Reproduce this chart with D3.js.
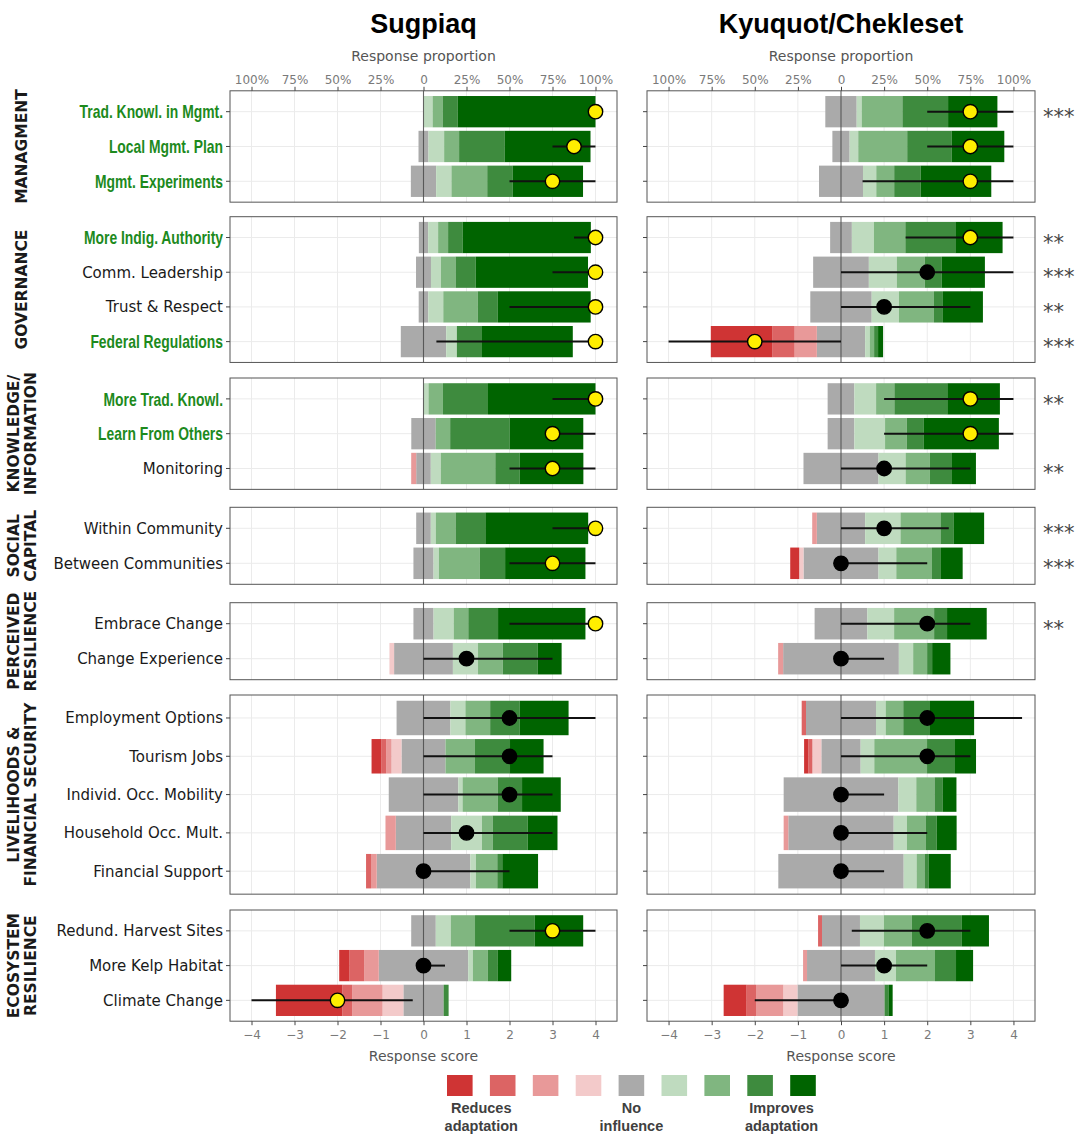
<!DOCTYPE html>
<html><head><meta charset="utf-8">
<script src="https://cdn.jsdelivr.net/npm/d3@7"></script>
<style>body{margin:0;background:#fff}</style>
</head><body><svg id="c" width="1078" height="1135"></svg>
<script>
// ---------------- DATA ----------------
const communities = ["Sugpiaq", "Kyuquot/Chekleset"];
const groupLabels = [["MANAGMENT"], ["GOVERNANCE"], ["KNOWLEDGE/", "INFORMATION"], ["SOCIAL", "CAPITAL"],
  ["PERCEIVED", "RESILIENCE"], ["LIVELIHOODS &", "FINANCIAL SECURITY"], ["ECOSYSTEM", "RESILIENCE"]];
const items = ["Trad. Knowl. in Mgmt.", "Local Mgmt. Plan", "Mgmt. Experiments",
  "More Indig. Authority", "Comm. Leadership", "Trust & Respect", "Federal Regulations",
  "More Trad. Knowl.", "Learn From Others", "Monitoring",
  "Within Community", "Between Communities",
  "Embrace Change", "Change Experience",
  "Employment Options", "Tourism Jobs", "Individ. Occ. Mobility", "Household Occ. Mult.", "Financial Support",
  "Redund. Harvest Sites", "More Kelp Habitat", "Climate Change"];
const itemGroup = [0,0,0, 1,1,1,1, 2,2,2, 3,3, 4,4, 5,5,5,5,5, 6,6,6];
const highlightedItems = [1,1,1, 1,0,0,1, 1,1,0, 0,0, 0,0, 0,0,0,0,0, 0,0,0];
// response categories (score -4 .. 4)
const categories = [-4, -3, -2, -1, 0, 1, 2, 3, 4];
// percentage of responses per category, order -4..4
const sugpiaqPct = [
  [0,0,0,0,0,5.3,5.8,8.7,80.2],
  [0,0,0,0,5.8,9.1,8.7,26.4,50],
  [0,0,0,0,14.7,8.9,20.8,14.7,41],
  [0,0,0,0,5.4,5.8,5.8,8.4,74.6],
  [0,0,0,0,8.7,5.8,8.5,11.7,65.3],
  [0,0,0,0,5.6,8.7,20,11.7,54],
  [0,0,0,0,26.4,6.2,0,14.6,52.8],
  [0,0,0,0,0,2.9,8.4,26.2,62.5],
  [0,0,0,0,14.2,0,8.4,34.6,42.8],
  [0,0,2.9,0,8.5,5.8,31.7,14.2,37],
  [0,0,0,0,8.5,2.9,11.5,17.3,59.8],
  [0,0,0,0,11.7,3.1,23.7,14.8,46.7],
  [0,0,0,0,11.7,11.7,8.5,17.3,50.8],
  [0,0,0,2.7,34.2,14.6,14.4,20.2,14],
  [0,0,0,0,31.3,8.7,14.4,17.1,28.5],
  [5.6,2.9,3.1,5.8,25.6,0,17.1,20.4,19.5],
  [0,0,0,0,40.4,2.5,20.4,14.2,22.5],
  [0,0,6,0,32.2,17.9,6.2,20.4,17.3],
  [0,2.9,3.3,0,54.4,3.3,12.4,2.9,20.8],
  [0,0,0,0,14.3,8.7,14.1,34.6,28.3],
  [6,8.5,8.5,0,52,2.7,8.7,5.6,8],
  [38.6,5.8,17.6,12.1,23.4,0,0,2.9,0]
];
const sugpiaqMedian = [4,3.5,3, 4,4,4,4, 4,3,3, 4,3, 4,1, 2,2,2,1,0, 3,0,-2];
const sugpiaqLow    = [4,3,2, 3.5,3,2,0.3, 3,3,2, 3,2, 2,0, 0,0,0,0,0, 2,0,-4];
const sugpiaqHigh   = [4,4,4, 4,4,4,4, 4,4,4, 4,4, 4,3, 4,3,3,3,2, 4,0.5,-0.25];
const sugpiaqSignif = [1,1,1, 1,1,1,1, 1,1,1, 1,1, 1,0, 0,0,0,0,0, 1,0,1];

const kyuquotPct = [
  [0,0,0,0,18.2,2.9,23.6,26.5,28.6],
  [0,0,0,0,10,5,28.4,25.7,30.6],
  [0,0,0,0,25.5,7.7,10.4,15.3,41],
  [0,0,0,0,12.6,12.8,18.2,29,27.4],
  [0,0,0,0,32.3,16.2,16.2,9.9,25],
  [0,0,0,0,35.6,15.8,20.3,5.2,23.2],
  [35.8,12.8,12.9,0,28,2.7,2.5,2.3,2.9],
  [0,0,0,0,15.5,12.6,10.6,30.7,30.5],
  [0,0,0,0,15.5,17.8,12.6,9.9,43.5],
  [0,0,0,0,43.5,15.7,14.1,12.8,13.9],
  [0,0,2.7,0,28,20.5,23.2,7.5,17.8],
  [5.2,0,0,2.5,43.5,10.3,20.7,5.2,12.6],
  [0,0,0,0,30.6,15.5,23.2,7.5,23],
  [0,0,2.9,0,67.1,8.3,8.1,2.9,10.6],
  [0,2.5,0,0,40.6,5.6,10.2,15.5,25.6],
  [2.5,2.3,0,5.2,22.8,7.9,30.6,16.2,12.2],
  [0,0,0,0,66.5,10.4,10.6,4.6,8.1],
  [0,0,2.7,0,61.1,7.7,10.8,6.4,11.6],
  [0,0,0,0,72.7,7.5,4.6,2.3,12.9],
  [0,2.3,0,0,22,13.9,16.2,29,15.7],
  [0,0,2.3,0,39.4,12.2,22.6,12.2,9.9],
  [13.3,5.5,15.8,8.2,50.5,0,0,2.5,2.2]
];
const kyuquotMedian = [3,3,3, 3,2,1,-2, 3,3,1, 1,0, 2,0, 2,2,0,0,0, 2,1,0];
const kyuquotLow    = [2,2,0.5, 1.5,0,0,-4, 1,1,0, 0,0, 0,0, 0,0,0,0,0, 0.25,0,-2];
const kyuquotHigh   = [4,4,4, 4,4,3,0, 4,4,3, 2.5,2, 3,1, 4.2,3,1,2,1, 3,2,0];
const kyuquotSignif = [1,1,1, 1,0,0,1, 1,1,0, 0,0, 0,0, 0,0,0,0,0, 0,0,0];
const diffStars = ["***","","", "**","***","**","***", "**","","**", "***","***", "**","", "","","","","", "","",""];

const topTickValues = [-4,-3,-2,-1,0,1,2,3,4];
const topTickLabels = ["100%","75%","50%","25%","0","25%","50%","75%","100%"];
const bottomTickValues = [-4,-3,-2,-1,0,1,2,3,4];
const legendLabels = [["Reduces","adaptation"],["No","influence"],["Improves","adaptation"]];
const legendLabelCats = [[-4,-3],[0],[3,4]];

// ---------------- STYLE / LAYOUT ----------------
const palette = ["#cf3434","#dc6464","#e89999","#f3caca","#aaaaaa","#bfdbbf","#80b680","#3e8b3e","#006400"];
const PANEL_X = [[230,617],[647,1035]];
const groupTop = [90.8,216.7,378,507.3,602.7,695,910];
const groupStep = [34.8,34.7,34.8,35,35,38.3,34.75];
const GREEN_TEXT = "#1d8a1d";

const svg = d3.select("#c");
const dataSets = [
  {pct: sugpiaqPct, med: sugpiaqMedian, lo: sugpiaqLow, hi: sugpiaqHigh, sig: sugpiaqSignif},
  {pct: kyuquotPct, med: kyuquotMedian, lo: kyuquotLow, hi: kyuquotHigh, sig: kyuquotSignif}
];

function segments(p) {
  const u = 4 / 100; // 100% == 4 score units
  const segs = [];
  const gh = p[4] * u / 2;
  segs.push({c: 4, x0: -gh, x1: gh});
  let s = -gh;
  for (let k = 3; k >= 0; k--) { const w = p[k] * u; segs.push({c: k, x0: s - w, x1: s}); s -= w; }
  s = gh;
  for (let k = 5; k <= 8; k++) { const w = p[k] * u; segs.push({c: k, x0: s, x1: s + w}); s += w; }
  return segs.filter(d => d.x1 - d.x0 > 0.0001);
}

communities.forEach((comm, ci) => {
  const [px0, px1] = PANEL_X[ci];
  const x = d3.scaleLinear([-4.5, 4.5], [px0, px1]);
  const ds = dataSets[ci];
  const g = svg.append("g");

  // title
  g.append("text").attr("x", (px0 + px1) / 2).attr("y", 33).attr("text-anchor", "middle")
    .attr("font-family", "Liberation Sans, Arial, sans-serif").attr("font-weight", "bold")
    .attr("font-size", 27).attr("fill", "#000").text(comm);
  g.append("text").attr("x", (px0 + px1) / 2).attr("y", 61).attr("text-anchor", "middle")
    .attr("font-family", "DejaVu Sans, sans-serif").attr("font-size", 14).attr("fill", "#555")
    .text("Response proportion");
  g.append("text").attr("x", (px0 + px1) / 2).attr("y", 1061).attr("text-anchor", "middle")
    .attr("font-family", "DejaVu Sans, sans-serif").attr("font-size", 14).attr("fill", "#555")
    .text("Response score");

  groupLabels.forEach((gl, gi) => {
    const idx = items.map((d, i) => i).filter(i => itemGroup[i] === gi);
    const n = idx.length;
    const top = groupTop[gi], bottom = top + (n + 0.2) * groupStep[gi];
    const y = d3.scaleBand(idx, [top, bottom]).paddingInner(0.1).paddingOuter(0.15);
    const pg = g.append("g");

    // grid
    pg.selectAll(".gv").data(topTickValues).join("line")
      .attr("x1", d => x(d)).attr("x2", d => x(d)).attr("y1", top).attr("y2", bottom)
      .attr("stroke", "#ebebeb").attr("stroke-width", 1);
    pg.selectAll(".gh").data(idx).join("line")
      .attr("x1", px0).attr("x2", px1).attr("y1", d => y(d) + y.bandwidth() / 2).attr("y2", d => y(d) + y.bandwidth() / 2)
      .attr("stroke", "#ebebeb").attr("stroke-width", 1);

    // bars
    idx.forEach(i => {
      pg.selectAll(null).data(segments(ds.pct[i])).join("rect")
        .attr("x", d => x(d.x0)).attr("width", d => x(d.x1) - x(d.x0))
        .attr("y", y(i)).attr("height", y.bandwidth())
        .attr("fill", d => palette[d.c]);
    });

    // zero line
    pg.append("line").attr("x1", x(0)).attr("x2", x(0)).attr("y1", top).attr("y2", bottom)
      .attr("stroke", "#444").attr("stroke-opacity", 0.8).attr("stroke-width", 1.1);

    // intervals
    pg.selectAll(".iv").data(idx).join("line")
      .attr("x1", i => x(ds.lo[i])).attr("x2", i => x(ds.hi[i]))
      .attr("y1", i => y(i) + y.bandwidth() / 2).attr("y2", i => y(i) + y.bandwidth() / 2)
      .attr("stroke", "#111").attr("stroke-width", 2);
    pg.selectAll(".pt").data(idx).join("circle")
      .attr("cx", i => x(ds.med[i])).attr("cy", i => y(i) + y.bandwidth() / 2).attr("r", 7.2)
      .attr("fill", i => ds.sig[i] ? "#ffee00" : "#000").attr("stroke", "#000").attr("stroke-width", 1.4);

    // border
    pg.append("rect").attr("x", px0).attr("y", top).attr("width", px1 - px0).attr("height", bottom - top)
      .attr("fill", "none").attr("stroke", "#555").attr("stroke-width", 1);

    // y ticks
    const ya = pg.append("g").attr("transform", `translate(${px0},0)`)
      .call(d3.axisLeft(y).tickSize(4).tickFormat(""));
    ya.select(".domain").remove();
    ya.selectAll(".tick line").attr("stroke", "#444");

    if (ci === 0) {
      // item labels
      idx.forEach(i => {
        const hl = highlightedItems[i];
        const t = pg.append("text").attr("x", px0 - 7).attr("y", y(i) + y.bandwidth() / 2)
          .attr("dy", "0.36em").attr("text-anchor", "end")
          .attr("font-family", hl ? "Liberation Sans, Arial, sans-serif" : "DejaVu Sans, sans-serif")
          .attr("font-weight", hl ? "bold" : "normal")
          .attr("font-size", hl ? 18.5 : 15)
          .attr("fill", hl ? GREEN_TEXT : "#1a1a1a").text(items[i]);
        if (hl) {
          const L = t.node().getComputedTextLength();
          t.attr("textLength", L * 0.75).attr("lengthAdjust", "spacingAndGlyphs");
        }
      });
      // strip labels
      const cy = (top + bottom) / 2;
      const xs = gl.length === 1 ? [21] : [13, 30];
      gl.forEach((line, li) => {
        pg.append("text").attr("transform", `translate(${xs[li]},${cy}) rotate(-90)`)
          .attr("text-anchor", "middle").attr("dy", "0.36em")
          .attr("font-family", "DejaVu Sans, sans-serif").attr("font-weight", "bold")
          .attr("font-size", 15.5).attr("fill", "#1a1a1a").text(line);
      });
    } else {
      idx.forEach(i => {
        if (!diffStars[i]) return;
        pg.append("text").attr("x", 1043).attr("y", y(i) + y.bandwidth() / 2 + 12)
          .attr("font-family", "DejaVu Sans, sans-serif").attr("font-size", 21)
          .attr("fill", "#444").text(diffStars[i]);
      });
    }

    if (gi === 0) {
      const ta = pg.append("g").attr("transform", `translate(0,${top})`)
        .call(d3.axisTop(x).tickValues(topTickValues).tickSize(4).tickPadding(3)
          .tickFormat((d, k) => topTickLabels[k]));
      ta.select(".domain").remove();
      ta.selectAll(".tick line").attr("stroke", "#444");
      ta.selectAll("text").attr("font-family", "DejaVu Sans, sans-serif").attr("font-size", 12).attr("fill", "#7a7a7a");
    }
    if (gi === groupLabels.length - 1) {
      const ba = pg.append("g").attr("transform", `translate(0,${bottom})`)
        .call(d3.axisBottom(x).tickValues(bottomTickValues).tickSize(4).tickPadding(5));
      ba.select(".domain").remove();
      ba.selectAll(".tick line").attr("stroke", "#444");
      ba.selectAll("text").attr("font-family", "DejaVu Sans, sans-serif").attr("font-size", 12).attr("fill", "#7a7a7a");
    }
  });
});

// legend
const lx = d3.scaleLinear([-4, 4], [459.8, 803]);
const lg = svg.append("g");
lg.selectAll("rect").data(categories).join("rect")
  .attr("x", d => lx(d) - 12.8).attr("y", 1075).attr("width", 25.6).attr("height", 21)
  .attr("fill", (d, k) => palette[k]);
legendLabels.forEach((ll, k) => {
  const cx = d3.mean(legendLabelCats[k], c => lx(c));
  ll.forEach((line, li) => {
    lg.append("text").attr("x", cx).attr("y", 1113 + li * 18).attr("text-anchor", "middle")
      .attr("font-family", "Liberation Sans, Arial, sans-serif").attr("font-weight", "bold")
      .attr("font-size", 14.5).attr("fill", "#404040").text(line);
  });
});
</script>
</body></html>
